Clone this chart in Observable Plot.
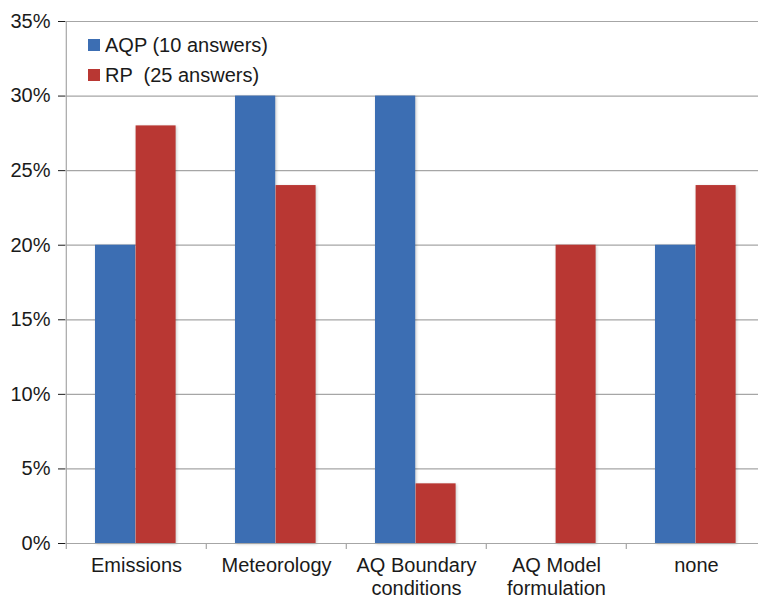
<!DOCTYPE html>
<html>
<head>
<meta charset="utf-8">
<script src="https://cdn.jsdelivr.net/npm/d3@7"></script>
<script src="https://cdn.jsdelivr.net/npm/@observablehq/plot@0.6"></script>
<style>
  html, body { margin: 0; padding: 0; background: #fff; }
  #wrap { position: relative; width: 758px; height: 601px; overflow: hidden; font-family: "Liberation Sans", Arial, Helvetica, sans-serif; }
  #legend { position: absolute; left: 88px; top: 30px; font-size: 20px; color: #1a1a1a; }
  #legend .row { display: flex; align-items: center; height: 30px; white-space: pre; }
  #legend .sw { width: 12px; height: 12px; margin-right: 5px; }
  .bars rect { filter: drop-shadow(1.5px 1.5px 1.5px rgba(0,0,0,0.22)); }
</style>
</head>
<body>
<div id="wrap"></div>
<script>
const categories = ["Emissions", "Meteorology", "AQ Boundary conditions", "AQ Model formulation", "none"];
const categoryLabels = ["Emissions", "Meteorology", "AQ Boundary\nconditions", "AQ Model\nformulation", "none"];
const seriesNames = ["AQP (10 answers)", "RP  (25 answers)"];
const aqpValues = [20, 30, 30, 0, 20];
const rpValues = [28, 24, 4, 20, 24];
const yTicks = [0, 5, 10, 15, 20, 25, 30, 35];
const colors = ["#3C6EB3", "#B93733"];

const aqp = categories.map((c, i) => ({category: c, value: aqpValues[i]}));
const rp = categories.map((c, i) => ({category: c, value: rpValues[i]}));
const labelRows = categories.map((c, i) => ({category: c, label: categoryLabels[i]}));

const W = 758, H = 601, left = 65, right = 767;
const band = (right - left) / categories.length;

const chart = Plot.plot({
  width: W,
  height: H,
  marginLeft: left,
  marginRight: 0,
  marginTop: 21,
  marginBottom: 58,
  style: {fontFamily: "'Liberation Sans', Arial, Helvetica, sans-serif", fontSize: "20px", color: "#1a1a1a", background: "#fff"},
  x: {domain: categories, range: [left, right], padding: 0, axis: null},
  y: {domain: [0, 35], ticks: yTicks, tickFormat: d => d + "%", tickSize: 7, tickPadding: 8, label: null, grid: false},
  marks: [
    Plot.gridY(yTicks, {stroke: "#a6a6a6", strokeOpacity: 1, strokeWidth: 1.2}),
    Plot.ruleX([categories[0]], {x: d => d, dx: -band / 2, stroke: "#a6a6a6", strokeWidth: 1.2}),
    Plot.barY(aqp.filter(d => d.value > 0), {x: "category", y: "value", fill: colors[0], insetLeft: 29, insetRight: band - 69.6, className: "bars"}),
    Plot.barY(rp, {x: "category", y: "value", fill: colors[1], insetLeft: 69.6, insetRight: band - 110, className: "bars"}),
    Plot.ruleY([0], {stroke: "#a6a6a6", strokeWidth: 1.2}),
    Plot.ruleX(categories, {x: d => d, dx: -band / 2, y1: 0, y2: 0, insetBottom: -6, stroke: "#a6a6a6", strokeWidth: 1.2}),
    Plot.text(labelRows, {x: "category", text: "label", frameAnchor: "bottom", lineAnchor: "top", dy: 13, lineHeight: 1.12, fontSize: 20, fill: "#1a1a1a"})
  ]
});

const wrap = document.getElementById("wrap");
wrap.appendChild(chart);

const legend = document.createElement("div");
legend.id = "legend";
seriesNames.forEach((name, i) => {
  const row = document.createElement("div");
  row.className = "row";
  const sw = document.createElement("span");
  sw.className = "sw";
  sw.style.background = colors[i];
  const t = document.createElement("span");
  t.textContent = name;
  row.appendChild(sw);
  row.appendChild(t);
  legend.appendChild(row);
});
wrap.appendChild(legend);
</script>
</body>
</html>
